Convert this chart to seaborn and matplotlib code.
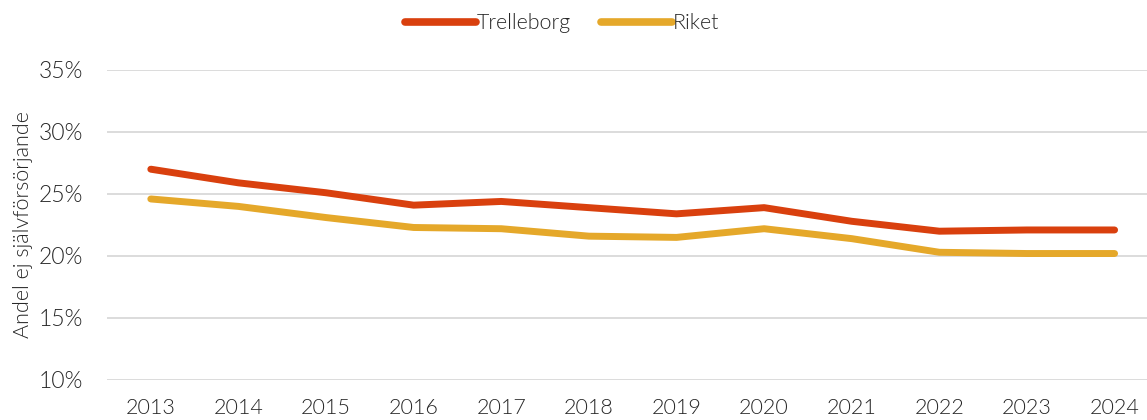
import matplotlib
matplotlib.use("Agg")
import matplotlib.pyplot as plt
import seaborn as sns
import pandas as pd
from matplotlib.ticker import FuncFormatter

years = [2013, 2014, 2015, 2016, 2017, 2018, 2019, 2020, 2021, 2022, 2023, 2024]
trelleborg = [27.0, 25.9, 25.1, 24.1, 24.4, 23.9, 23.4, 23.9, 22.8, 22.0, 22.1, 22.1]
riket = [24.6, 24.0, 23.1, 22.3, 22.2, 21.6, 21.5, 22.2, 21.4, 20.3, 20.2, 20.2]
series_names = ["Trelleborg", "Riket"]
colors = ["#D9400E", "#E5A82A"]
y_ticks = [10, 15, 20, 25, 30, 35]

df = pd.DataFrame({"År": years * 2,
                   "Andel": trelleborg + riket,
                   "Serie": [series_names[0]] * len(years) + [series_names[1]] * len(years)})

sns.set_theme(style="white")
plt.rcParams["font.family"] = ["Lato", "DejaVu Sans"]
plt.rcParams["font.weight"] = 300
plt.rcParams["axes.labelweight"] = 300

fig = plt.figure(figsize=(11.47, 4.2), dpi=100)
ax = fig.add_axes([107 / 1147, 1 - 380 / 420, 1 - 107 / 1147, 310 / 420])

sns.lineplot(data=df, x="År", y="Andel", hue="Serie", palette=colors,
             linewidth=5, ax=ax)

ax.set_ylim(10, 35)
ax.set_xlim(2012.5, 2024.37)
ax.set_yticks(y_ticks)
ax.yaxis.set_major_formatter(FuncFormatter(lambda v, _: f"{v:.0f}%"))
ax.set_xticks(years)
ax.set_xticklabels([str(y) for y in years])
ax.grid(axis="y", color="#D9D9D9", linewidth=1.3)
ax.grid(axis="x", visible=False)
for s in ax.spines.values():
    s.set_visible(False)
ax.tick_params(axis="x", length=0, labelsize=15.5, labelcolor="#262626", pad=13)
ax.tick_params(axis="y", length=0, labelsize=16.5, labelcolor="#262626", pad=17)
ax.set_xlabel("")
ax.set_ylabel("Andel ej självförsörjande", fontsize=15.5, color="#262626", labelpad=4)
for line in ax.get_lines():
    line.set_solid_capstyle("round")

handles, labels = ax.get_legend_handles_labels()
for h in handles:
    h.set_linewidth(5.5)
    h.set_solid_capstyle("round")
ax.legend(handles, labels, loc="center", bbox_to_anchor=(0.4375, 1.151), ncol=2,
          frameon=False, fontsize=15.5, handlelength=3.3, handletextpad=0.05,
          columnspacing=1.4, labelcolor="#262626")

fig.savefig("out.png", dpi=100)
